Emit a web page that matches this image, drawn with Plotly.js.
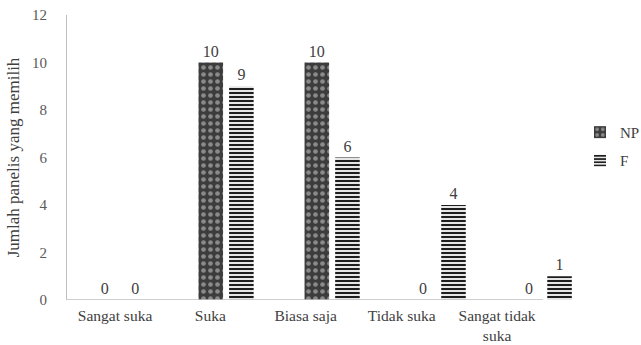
<!DOCTYPE html>
<html>
<head>
<meta charset="utf-8">
<script src="https://cdn.plot.ly/plotly-3.0.1.min.js"></script>
<style>html,body{margin:0;padding:0;background:#fff;}#chart{width:641px;height:345px;}</style>
</head>
<body>
<div id="chart"></div>
<script>
const categories = ["Sangat suka", "Suka", "Biasa saja", "Tidak suka", "Sangat tidak suka"];
const tickLabels = ["Sangat suka", "Suka", "Biasa saja", "Tidak suka", "Sangat tidak<br>suka"];
// label positions (in category units) as they sit in the original figure
const tickPositions = [-0.047, 0.851, 1.750, 2.657, 3.555];
const seriesNames = ["NP", "F"];
const valuesNP = [0, 10, 10, 0, 0];
const valuesF = [0, 9, 6, 4, 1];
const yTicks = [0, 2, 4, 6, 8, 10, 12];

const serif = "Liberation Serif, Times New Roman, serif";
const txtFont = {family: serif, size: 16, color: "#404040"};
const xIdx = categories.map((c, i) => i);

const traces = [
  {
    type: "bar", name: seriesNames[0], x: xIdx, y: valuesNP,
    text: valuesNP.map(String), textposition: "outside", cliponaxis: false,
    textfont: txtFont, legendgroup: "a",
    marker: {color: "#3c3c3c", line: {width: 0},
      pattern: {shape: ".", fgcolor: "#8a8a8a", bgcolor: "#3c3c3c", size: 7, solidity: 0.35}},
    hoverinfo: "none"
  },
  {
    type: "bar", name: seriesNames[1], x: xIdx, y: valuesF,
    text: valuesF.map(String), textposition: "outside", cliponaxis: false,
    textfont: txtFont, legendgroup: "b",
    marker: {color: "#e0e0e0", line: {width: 0},
      pattern: {shape: "-", fgcolor: "#1e1e1e", bgcolor: "#e6e6e6", size: 4, solidity: 0.5}},
    hoverinfo: "none"
  }
];

const layout = {
  width: 641, height: 345,
  margin: {l: 67, r: 66, t: 15, b: 45, autoexpand: false},
  paper_bgcolor: "#ffffff", plot_bgcolor: "#ffffff",
  font: {family: serif, size: 15, color: "#404040"},
  barmode: "group", bargap: 0.423, bargroupgap: 0.197,
  showlegend: true,
  legend: {x: 1.0098, y: 0.646, xanchor: "left", yanchor: "top",
    font: {family: serif, size: 15, color: "#404040"},
    traceorder: "grouped", tracegroupgap: 6, bgcolor: "rgba(0,0,0,0)"},
  xaxis: {type: "linear", range: [-0.5, 4.29], tickmode: "array",
    tickvals: tickPositions, ticktext: tickLabels,
    showline: false, showgrid: false, zeroline: false, ticks: "",
    ticklabelstandoff: 4,
    tickfont: {family: serif, size: 15.5, color: "#404040"}},
  yaxis: {range: [0, 12], tickmode: "array", tickvals: yTicks,
    showline: true, linecolor: "#bfbfbf", linewidth: 1,
    showgrid: false, zeroline: false, ticks: "", ticklabelstandoff: 16,
    tickfont: {family: serif, size: 15, color: "#595959"},
    title: {text: "Jumlah panelis yang memilih", font: {family: serif, size: 17, color: "#404040"}, standoff: 8}},
  shapes: [
    {type: "line", xref: "paper", yref: "y", x0: 0, x1: 0.937, y0: 0, y1: 0,
     line: {color: "#bfbfbf", width: 1.5}}
  ]
};

Plotly.newPlot("chart", traces, layout, {displayModeBar: false, staticPlot: true});
</script>
</body>
</html>
